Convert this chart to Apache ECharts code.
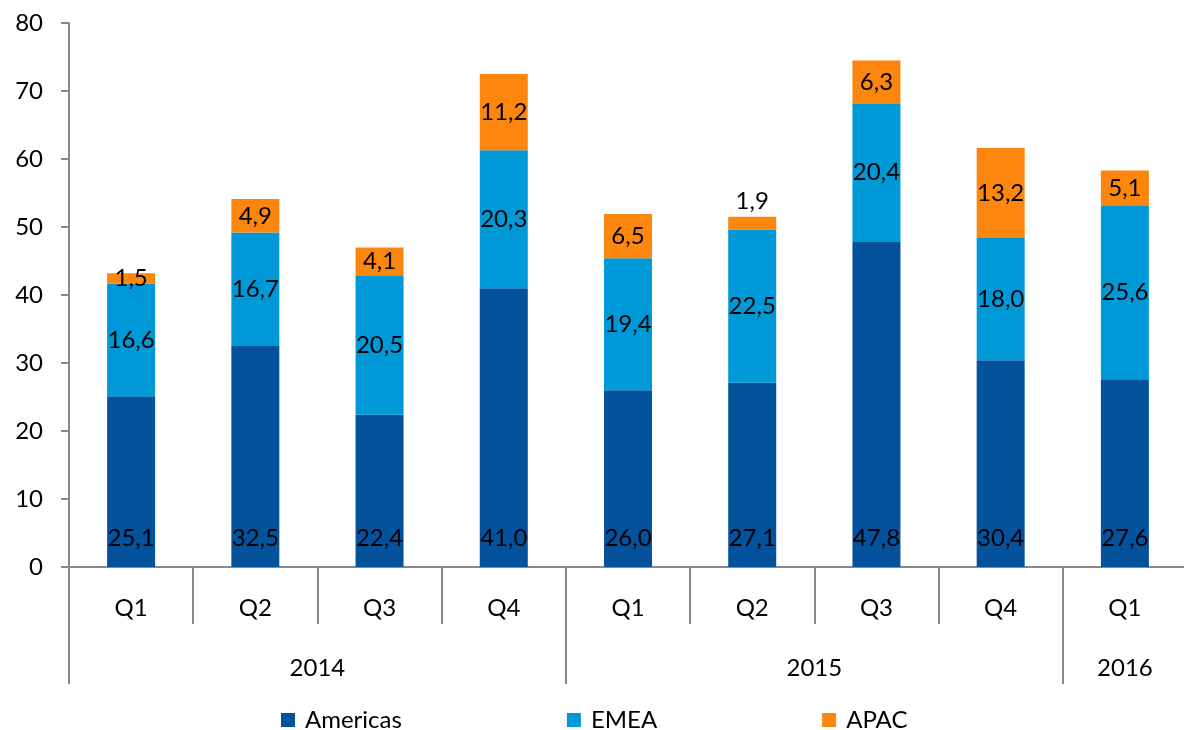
<!DOCTYPE html>
<html>
<head>
<meta charset="utf-8">
<title>Regional quarterly chart</title>
<script src="https://cdn.jsdelivr.net/npm/echarts@6/dist/echarts.min.js"></script>
<style>
    html, body { margin: 0; padding: 0; background: #fff; }
    #chart { width: 1184px; height: 730px; }
</style>
</head>
<body>
<div id="chart"></div>
<script>
    // data
    var quarters = ['Q1', 'Q2', 'Q3', 'Q4', 'Q1', 'Q2', 'Q3', 'Q4', 'Q1'];
    var years = ['2014', '2015', '2016'];
    var yearBounds = [0, 4, 8, 9];      // year groups in category units
    var yearCenters = [2, 6, 8.5];
    var americas = [25.1, 32.5, 22.4, 41.0, 26.0, 27.1, 47.8, 30.4, 27.6];
    var emea = [16.6, 16.7, 20.5, 20.3, 19.4, 22.5, 20.4, 18.0, 25.6];
    var apac = [1.5, 4.9, 4.1, 11.2, 6.5, 1.9, 6.3, 13.2, 5.1];

    var FONT = 'Lato';
    var axisGray = '#898989';

    function fmt(p) {
        return p.value.toFixed(1).replace('.', ',');
    }

    var chart = echarts.init(document.getElementById('chart'));

    // the small 1,9 slice has its label sitting above the bar
    var apacData = apac.map(function (v, i) {
        if (i === 5) {
            return { value: v, label: { position: 'top', distance: 4 } };
        }
        return v;
    });

    var labelBase = {
        show: true,
        color: '#000',
        fontFamily: FONT,
        fontSize: 24,
        formatter: fmt
    };

    var option = {
        animation: false,
        textStyle: { fontFamily: FONT },
        grid: {
            left: 69,
            top: 23,
            width: 1118,
            height: 544,
            containLabel: false,
            outerBoundsMode: 'none'
        },
        legend: {
            top: 703,
            left: 276,
            icon: 'rect',
            itemWidth: 14,
            itemHeight: 14,
            itemGap: 165,
            textStyle: { fontFamily: FONT, fontSize: 24, color: '#000', padding: [0, 0, 0, 5] },
            data: ['Americas', 'EMEA', 'APAC']
        },
        xAxis: [
            {
                type: 'category',
                data: quarters,
                position: 'bottom',
                axisLine: { show: true, lineStyle: { color: axisGray, width: 2 } },
                axisTick: { show: true, length: 57, lineStyle: { color: axisGray, width: 2 } },
                axisLabel: { color: '#000', fontFamily: FONT, fontSize: 24, margin: 29 },
                splitLine: { show: false }
            },
            {
                type: 'value',
                min: 0,
                max: 9,
                position: 'bottom',
                axisLine: { show: false },
                axisTick: {
                    show: true,
                    length: 117,
                    customValues: yearBounds,
                    lineStyle: { color: axisGray, width: 2 }
                },
                axisLabel: {
                    color: '#000',
                    fontFamily: FONT,
                    fontSize: 24,
                    margin: 89,
                    customValues: yearCenters,
                    formatter: function (v) {
                        return years[yearCenters.indexOf(v)] || '';
                    }
                },
                splitLine: { show: false }
            }
        ],
        yAxis: {
            type: 'value',
            min: 0,
            max: 80,
            interval: 10,
            axisLine: { show: true, lineStyle: { color: axisGray, width: 2 } },
            axisTick: { show: true, length: 8, lineStyle: { color: axisGray, width: 2 } },
            axisLabel: { color: '#000', fontFamily: FONT, fontSize: 24, margin: 26 },
            splitLine: { show: false }
        },
        series: [
            {
                name: 'Americas',
                type: 'bar',
                stack: 'total',
                barWidth: 48,
                itemStyle: { color: '#03529b' },
                label: Object.assign({}, labelBase, { position: 'insideBottom', distance: 17 }),
                data: americas
            },
            {
                name: 'EMEA',
                type: 'bar',
                stack: 'total',
                barWidth: 48,
                itemStyle: { color: '#0099d7' },
                label: Object.assign({}, labelBase, { position: 'inside' }),
                data: emea
            },
            {
                name: 'APAC',
                type: 'bar',
                stack: 'total',
                barWidth: 48,
                itemStyle: { color: '#fd860f' },
                label: Object.assign({}, labelBase, { position: 'inside' }),
                data: apacData
            }
        ]
    };

    chart.setOption(option);
</script>
</body>
</html>
